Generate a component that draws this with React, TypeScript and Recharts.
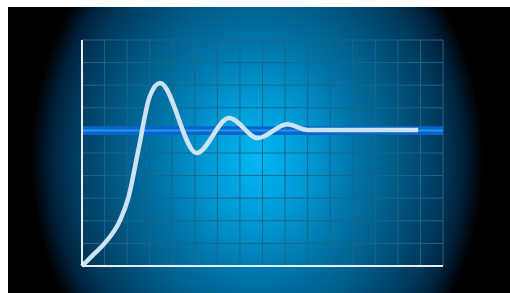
import React from 'react';
import { LineChart, Line, XAxis, YAxis, CartesianGrid, ReferenceArea, ReferenceLine } from 'recharts';

// step response of a damped system
const timeSteps = [0, 0.5, 1, 1.7, 2.05, 2.5, 3, 3.46, 5.08, 6.52, 7.8, 9.1, 10, 14.9];
const response = [0, 0.5, 1.0, 2.05, 3.0, 5.14, 7.5, 8.1, 5.0, 6.55, 5.66, 6.27, 6.02, 6.02];
const xTicks = [0, 1, 2, 3, 4, 5, 6, 7, 8, 9, 10, 11, 12, 13, 14, 15, 16];
const yTicks = [0, 1, 2, 3, 4, 5, 6, 7, 8, 9, 10];
const setPoint = 6;
const bandLow = 5.8;
const bandHigh = 6.18;

const data = timeSteps.map((t, i) => ({ t, v: response[i] }));

const NoTick = () => <g />;

export default function App() {
  return (
    <div
      style={{
        position: 'fixed',
        left: 8,
        top: 7,
        width: 520,
        height: 290,
        background:
          'radial-gradient(ellipse 226px 270px at 249px 152px, #00b8f4 0%, #009ad6 22%, #0078ac 42%, #005a86 62%, #003d60 80%, #00223d 91%, #000000 100%)',
      }}
    >
      <LineChart width={502} height={286} data={data} margin={{ top: 33, right: 67, bottom: 26, left: 73 }}>
        <CartesianGrid stroke="#1b6688" strokeWidth={1} />
        <XAxis
          type="number"
          dataKey="t"
          domain={[0, 16]}
          ticks={xTicks}
          interval={0}
          tick={NoTick}
          tickLine={false}
          height={1}
          axisLine={{ stroke: '#e6eef2', strokeWidth: 2 }}
        />
        <YAxis
          type="number"
          domain={[0, 10]}
          ticks={yTicks}
          interval={0}
          tick={NoTick}
          tickLine={false}
          width={1}
          axisLine={{ stroke: '#e6eef2', strokeWidth: 2 }}
        />
        <ReferenceArea y1={bandLow} y2={bandHigh} fill="#0a64cc" fillOpacity={1} stroke="none" />
        <ReferenceLine y={setPoint} stroke="#2196ea" strokeWidth={2} />
        <Line
          type="monotone"
          dataKey="v"
          stroke="#cce4f1"
          strokeWidth={4.5}
          dot={false}
          activeDot={false}
          isAnimationActive={false}
        />
      </LineChart>
    </div>
  );
}
